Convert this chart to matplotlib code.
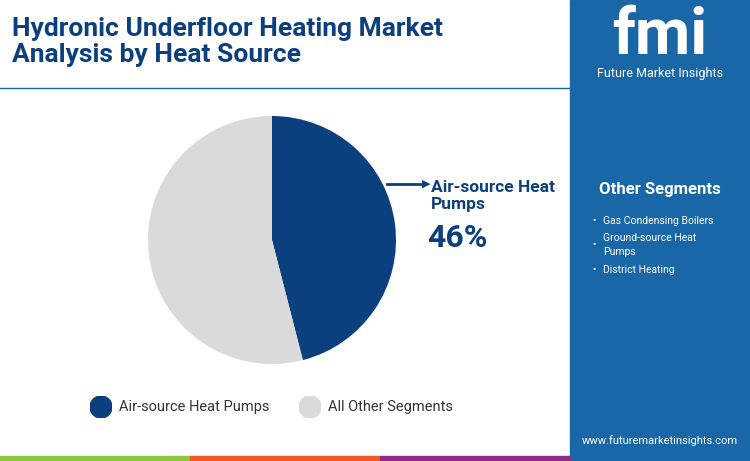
import matplotlib
matplotlib.use("Agg")
import matplotlib.pyplot as plt
from matplotlib.patches import Rectangle

labels = ["Air-source Heat Pumps", "All Other Segments"]
values = [46, 54]
colors = ["#0c3f7d", "#dadada"]
other_segments = ["Gas Condensing Boilers", "Ground-source Heat\nPumps", "District Heating"]

plt.rcParams['font.family'] = ['Roboto', 'DejaVu Sans']
W, H = 750, 461
fig = plt.figure(figsize=(7.5, 4.61), dpi=100)
fig.patch.set_facecolor("white")

def px(x, y):
    return x / W, 1 - y / H

fig.patches.append(Rectangle(px(570, 461), 180 / W, 1, transform=fig.transFigure, color="#1a67a8", zorder=0))
for x0, c in [(0, "#8dc63f"), (190, "#ee5a24"), (380, "#8e2c86")]:
    fig.patches.append(Rectangle(px(x0, 461), 190 / W, 5 / H, transform=fig.transFigure, color=c, zorder=0))
fig.add_artist(plt.Line2D([0, 570 / W], [1 - 88 / H] * 2, color="#1a67a8", lw=1))

fig.text(*px(12, 42), "Hydronic Underfloor Heating Market\nAnalysis by Heat Source", fontsize=19,
         fontweight="bold", color="#0c3f7d", va="center", linespacing=1.1)

fig.text(*px(660, 36), "fmi", fontsize=46, fontweight="bold", color="white", ha="center", va="center")
fig.text(*px(660, 74), "Future Market Insights", fontsize=9, color="white", ha="center", va="center")

fig.text(*px(660, 189), "Other Segments", fontsize=12, fontweight="bold", color="white", ha="center", va="center")
for y, s in zip([221, 245, 270], other_segments):
    fig.text(*px(592, y), "•", fontsize=7, color="white", va="center")
    fig.text(*px(603, y), s, fontsize=7.5, color="white", va="center", linespacing=1.6)
fig.text(*px(660, 441), "www.futuremarketinsights.com", fontsize=8, color="white", ha="center", va="center")

ax = fig.add_axes([(272 - 124) / W, 1 - (240 + 124) / H, 248 / W, 248 / H])
ax.pie(values, colors=colors, startangle=90, counterclock=False, radius=1)
ax.set_xlim(-1, 1); ax.set_ylim(-1, 1); ax.set_aspect("equal"); ax.axis("off")

fig.add_artist(plt.Line2D([387 / W, 420 / W], [1 - 184 / H] * 2, color="#0c3f7d", lw=2))
fig.text(*px(430, 184), "▶", fontsize=8, color="#0c3f7d", ha="right", va="center", family="DejaVu Sans")
fig.text(*px(431, 196), "Air-source Heat\nPumps", fontsize=12.5, fontweight="bold", color="#0c3f7d",
         va="center", linespacing=1.2)
fig.text(*px(427, 238), f"{values[0]}%", fontsize=23, fontweight="bold", color="#0c3f7d", va="center")

for cx, lab, c in [(101, labels[0], colors[0]), (310, labels[1], colors[1])]:
    ax2 = fig.add_axes([(cx - 11) / W, 1 - (407 + 11) / H, 22 / W, 22 / H])
    ax2.add_patch(plt.Circle((0, 0), 1, color=c)); ax2.set_xlim(-1, 1); ax2.set_ylim(-1, 1); ax2.axis("off")
    fig.text(*px(cx + 18, 407), lab, fontsize=10.5, color="#333333", va="center")

fig.savefig("out.png", dpi=100)
